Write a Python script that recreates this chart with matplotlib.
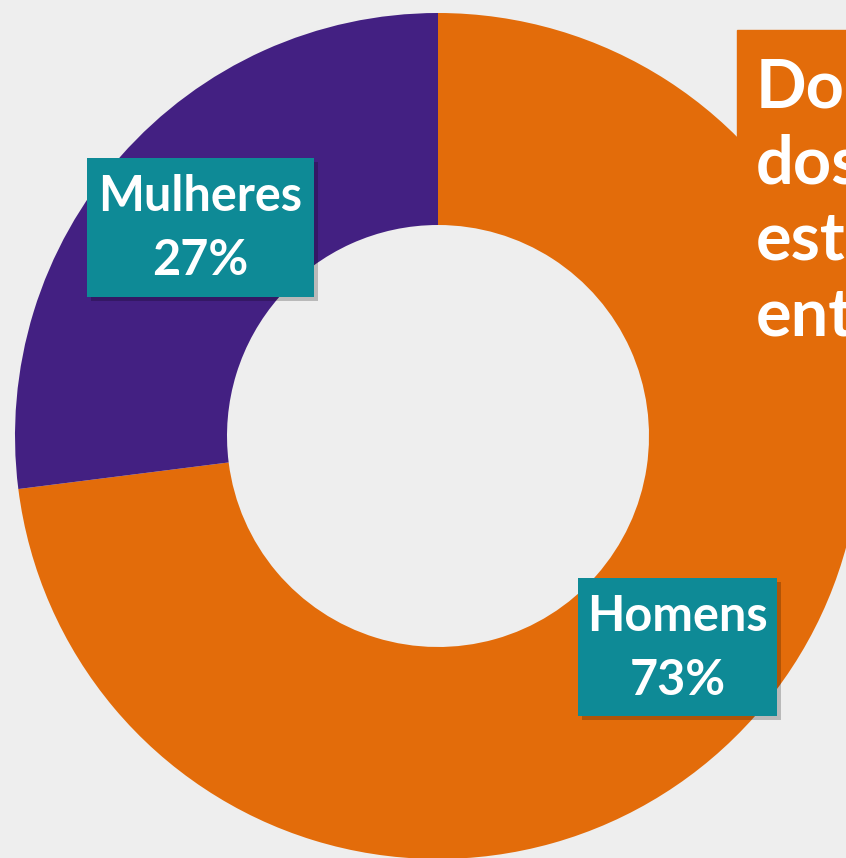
import matplotlib
matplotlib.use("Agg")
import matplotlib.pyplot as plt
from matplotlib.patches import Rectangle

# data
labels = ["Homens", "Mulheres"]
shares = [73, 27]
colors = ["#E36C0A", "#432082"]
box_lines = ["Do", "dos", "est", "ent"]

W, H = 846, 858
fig = plt.figure(figsize=(W / 100, H / 100), dpi=100)
fig.patch.set_facecolor("#EEEEEE")
ax = fig.add_axes([0, 0, 1, 1])
ax.set_facecolor("#EEEEEE")

cx, cy = 438, H - 436
R = 423
ax.pie(shares, colors=colors, startangle=90, counterclock=False,
       center=(cx, cy), radius=R, frame=True,
       wedgeprops=dict(width=R - 211, linewidth=0))
ax.set_xlim(0, W)
ax.set_ylim(0, H)
ax.set_aspect("equal")
ax.axis("off")

# title box on the right (cut off at the edge, as in the source)
ax.add_patch(Rectangle((737, H - 360), 200, 330, color=colors[0], zorder=3))
for i, line in enumerate(box_lines):
    ax.text(756, H - 88 - i * 76, line, color="white", fontsize=48,
            fontweight="bold", family="Lato", va="center", ha="left", zorder=4)


def label_box(x0, y0, x1, y1, name, pct):
    w, h = x1 - x0, y1 - y0
    ax.add_patch(Rectangle((x0 + 4, H - y1 - 4), w, h, color="#000000",
                           alpha=0.22, lw=0, zorder=4))
    ax.add_patch(Rectangle((x0, H - y1), w, h, color="#0E8A96", lw=0, zorder=5))
    xc = (x0 + x1) / 2
    ax.text(xc, H - (y0 + h * 0.28), name, color="white", fontsize=35,
            fontweight="bold", family="Lato", ha="center", va="center", zorder=6)
    ax.text(xc, H - (y0 + h * 0.74), f"{pct}%", color="white", fontsize=35,
            fontweight="bold", family="Lato", ha="center", va="center", zorder=6)


label_box(87, 158, 314, 297, labels[1], shares[1])
label_box(578, 578, 777, 716, labels[0], shares[0])

fig.savefig("out.png", dpi=100, facecolor=fig.get_facecolor())
